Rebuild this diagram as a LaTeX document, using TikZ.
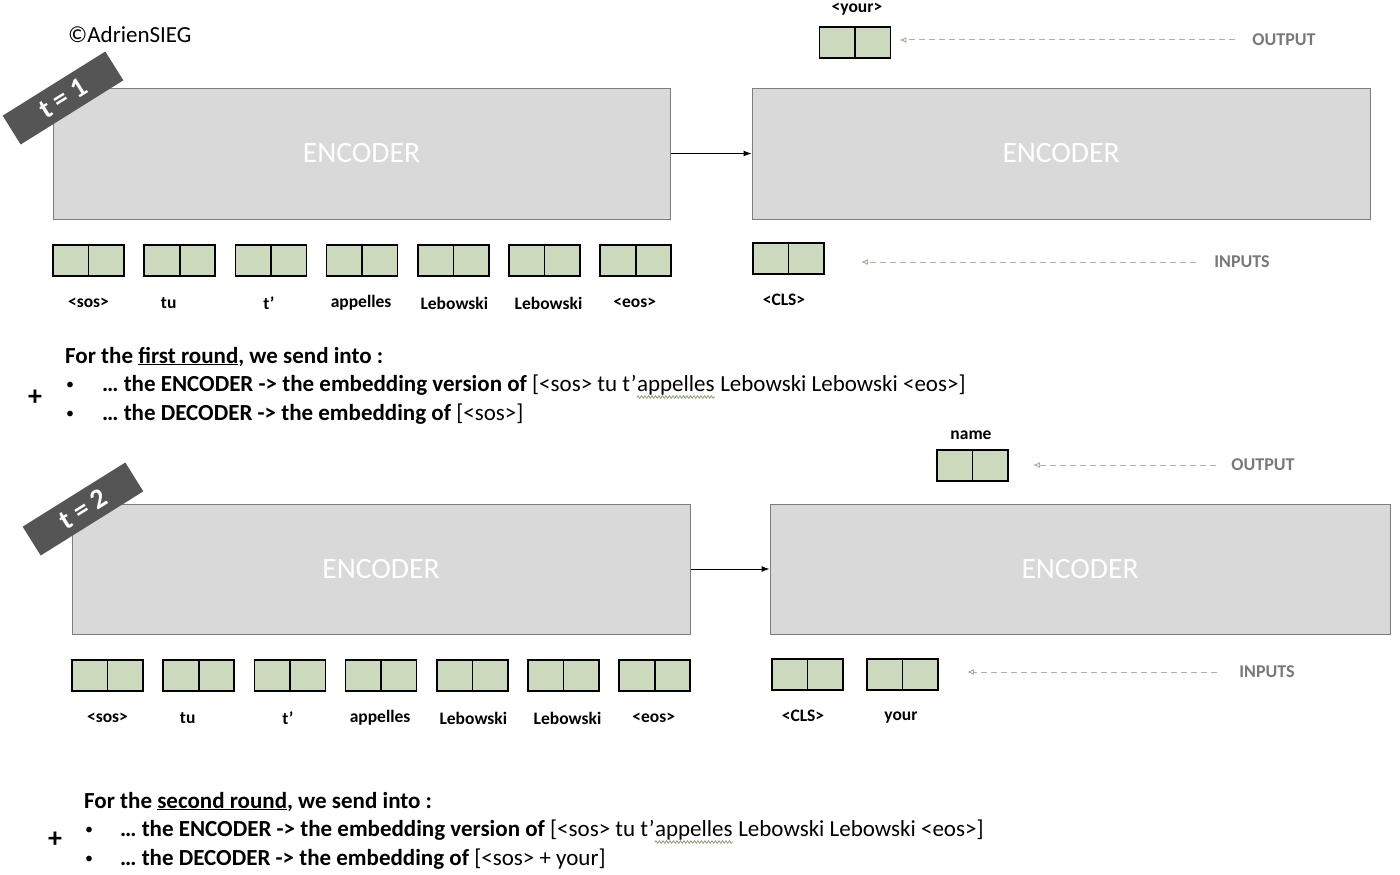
\documentclass[tikz,border=0pt]{standalone}
\usepackage{fontspec}
\setmainfont{Carlito}
\usetikzlibrary{arrows.meta,positioning,decorations.pathmorphing}

\definecolor{encgray}{RGB}{217,217,217}
\definecolor{encline}{RGB}{125,128,120}
\definecolor{tokgreen}{RGB}{205,217,188}
\definecolor{taggray}{RGB}{85,85,85}
\definecolor{hintgray}{RGB}{120,120,120}
\definecolor{dashgreen}{RGB}{170,180,160}
\definecolor{wavegreen}{RGB}{140,155,120}

\tikzset{
  encoder/.style={draw=encline, line width=1pt, fill=encgray, inner sep=0pt,
    minimum height=131pt, text=white, font=\fontsize{29.5}{29.5}\selectfont},
  tag/.style={fill=taggray, rotate=32, minimum width=121pt, minimum height=34pt,
    inner sep=0pt, text=white, font=\bfseries\fontsize{28}{28}\selectfont},
  tok/.style={draw=black, line width=1.6pt, fill=tokgreen, inner sep=0pt,
    minimum width=71pt, minimum height=31pt,
    path picture={\draw[line width=1.6pt] (path picture bounding box.north) -- (path picture bounding box.south);}},
  toklab/.style={font=\bfseries\fontsize{17.5}{17.5}\selectfont},
  hint/.style={text=hintgray, inner sep=0pt, font=\bfseries\fontsize{18}{18}\selectfont},
  hintarrow/.style={draw=dashgreen, line width=1pt, dash pattern=on 6pt off 4pt,
    -{Latex[open,length=7pt,width=6pt]}},
  txt/.style={anchor=base west, inner sep=0pt, font=\fontsize{23}{23}\selectfont},
  dot/.style={anchor=base west, inner sep=0pt, font=\fontsize{16}{16}\selectfont},
  spellwave/.style={draw=wavegreen, line width=0.8pt,
    decorate, decoration={snake, amplitude=1.3pt, segment length=3.5pt}},
}

\begin{document}
\begin{tikzpicture}[x=1pt,y=-1pt]
  \useasboundingbox (0,0) rectangle (1400,875);

  \node[anchor=west, inner sep=0pt, font=\fontsize{23}{23}\selectfont] (credit) at (68,35) {©AdrienSIEG};

  % first round
  \node[encoder, minimum width=617pt] (encA) at (361.5,153.5) {ENCODER};
  \node[encoder, minimum width=618pt] (encB) at (1061,153.5) {ENCODER};
  \draw[-{Latex[length=8pt,width=6pt]}, line width=1pt] (encA.east) -- (encB.west);
  \node[tag] (tagA) at (63,98) {t = 1};

  \foreach \i/\lab/\dx in {0/{<sos>}/0, 1/tu/-11, 2/{t’}/-2, 3/appelles/-1, 4/Lebowski/1, 5/Lebowski/4, 6/{<eos>}/-1} {
    \node[tok] (tokA\i) at ({88.5+91.2*\i},260.5) {};
    \node[toklab] (labA\i) at ({88.5+91.2*\i+\dx},303) {\lab};
  }
  \node[tok] (clsA) at (788.5,258.5) {};
  \node[toklab] (clslabA) at (784,300) {<CLS>};
  \node[hint] (inA) at (1242,262) {INPUTS};
  \draw[hintarrow, shorten <=18pt, shorten >=36pt] (inA.west) -- (clsA.east |- inA.west);

  \node[tok] (outA) at (855,42.5) {};
  \node[toklab] (outlabA) at (857,9) {<your>};
  \node[hint] (oA) at (1284,40) {OUTPUT};
  \draw[hintarrow, shorten <=17pt, shorten >=8pt] (oA.west) -- (outA.east |- oA.west);

  \node[txt] (headA) at (65,363) {\textbf{For the \underline{first round}, we send into :}};
  \node[dot] (dotA1) at (66,389) {\textbullet};
  \node[dot] (dotA2) at (66,418) {\textbullet};
  \node[txt] (lineA1) at (102,391) {\textbf{… the ENCODER -> the embedding version of} [<sos> tu t’};
  \node[txt] (wordA) at (lineA1.base east) {appelles};
  \node[txt] (restA) at (wordA.base east) {\ Lebowski Lebowski <eos>]};
  \draw[spellwave] ([yshift=-6pt]wordA.base west) -- ([yshift=-6pt]wordA.base east);
  \node[txt] (lineA2) at (102,420) {\textbf{… the DECODER -> the embedding of} [<sos>]};
  \node[txt, anchor=center, font=\bfseries\fontsize{28}{28}\selectfont] (plusA) at (35,398) {+};

  % second round
  \node[encoder, minimum width=618pt, minimum height=130pt] (encC) at (381,569) {ENCODER};
  \node[encoder, minimum width=620pt, minimum height=130pt] (encD) at (1080,569) {ENCODER};
  \draw[-{Latex[length=8pt,width=6pt]}, line width=1pt] (encC.east) -- (encD.west);
  \node[tag] (tagB) at (83,509) {t = 2};

  \foreach \i/\lab/\dx in {0/{<sos>}/0, 1/tu/-11, 2/{t’}/-2, 3/appelles/-1, 4/Lebowski/1, 5/Lebowski/4, 6/{<eos>}/-1} {
    \node[tok] (tokB\i) at ({107.5+91.2*\i},675.5) {};
    \node[toklab] (labB\i) at ({107.5+91.2*\i+\dx},718) {\lab};
  }
  \node[tok] (clsB) at (807.5,674.5) {};
  \node[toklab] (clslabB) at (803,716) {<CLS>};
  \node[tok] (yourB) at (902.5,674.5) {};
  \node[toklab] (yourlabB) at (901,718) {your};
  \node[hint] (inB) at (1267,672) {INPUTS};
  \draw[hintarrow, shorten <=22pt, shorten >=28pt] (inB.west) -- (yourB.east |- inB.west);

  \node[tok] (outB) at (972.5,465.5) {};
  \node[toklab] (outlabB) at (971,435) {name};
  \node[hint] (oB) at (1263,465) {OUTPUT};
  \draw[hintarrow, shorten <=15pt, shorten >=24pt] (oB.west) -- (outB.east |- oB.west);

  \node[txt] (headB) at (84,808) {\textbf{For the \underline{second round}, we send into :}};
  \node[dot] (dotB1) at (85,834) {\textbullet};
  \node[dot] (dotB2) at (85,863) {\textbullet};
  \node[txt] (lineB1) at (120,836) {\textbf{… the ENCODER -> the embedding version of} [<sos> tu t’};
  \node[txt] (wordB) at (lineB1.base east) {appelles};
  \node[txt] (restB) at (wordB.base east) {\ Lebowski Lebowski <eos>]};
  \draw[spellwave] ([yshift=-6pt]wordB.base west) -- ([yshift=-6pt]wordB.base east);
  \node[txt] (lineB2) at (120,865) {\textbf{… the DECODER -> the embedding of} [<sos> + your]};
  \node[txt, anchor=center, font=\bfseries\fontsize{28}{28}\selectfont] (plusB) at (55,840) {+};
\end{tikzpicture}
\end{document}
